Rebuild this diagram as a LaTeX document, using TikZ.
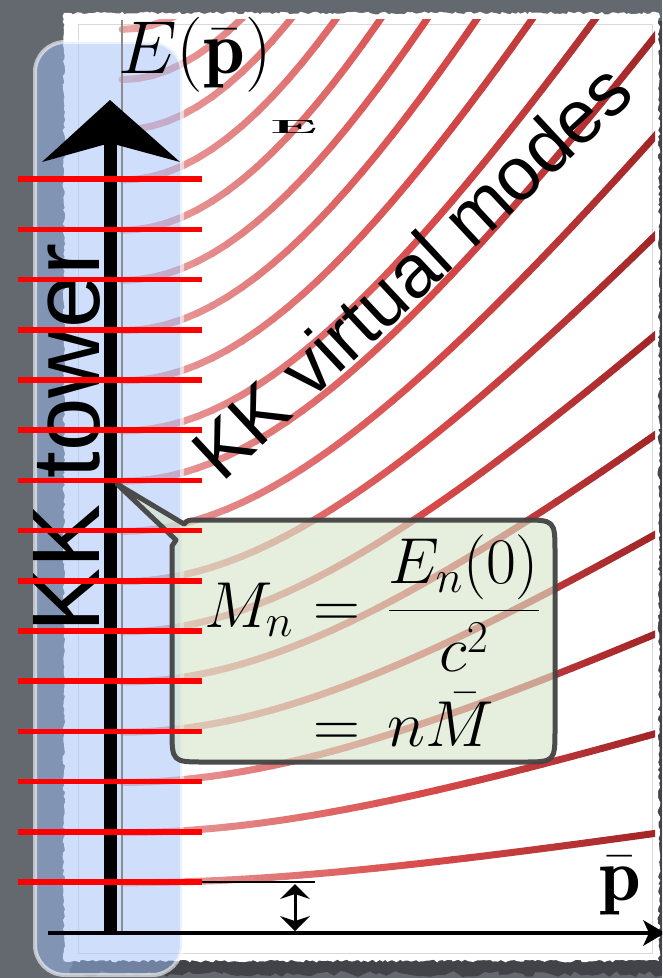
\RequirePackage{fix-cm}
\documentclass[tikz,border=0pt]{standalone}
\usepackage{amsmath}
\usepackage{fontspec}
\newfontfamily\arialf{Liberation Sans}
\usetikzlibrary{arrows.meta, decorations.pathmorphing}
\definecolor{bgc}{HTML}{64686F}
\definecolor{boxblue}{HTML}{A1C1F9}
\definecolor{callfill}{HTML}{D7E5CA}
\definecolor{callborder}{HTML}{434343}
\definecolor{cA}{HTML}{EBA5A5}
\definecolor{cB}{HTML}{D84A4A}
\definecolor{cC}{HTML}{A22628}
\definecolor{towerred}{HTML}{FF0000}
\begin{document}
\begin{tikzpicture}[x=1pt,y=-1pt,
  redline/.style={line width=5.5pt, draw=towerred},
  kkcurve/.style={line width=7pt, line cap=round},
  mathlbl/.style={font=\fontsize{75}{85}\selectfont, inner sep=0pt},
  sanslbl/.style={font=\arialf\fontsize{96}{100}\selectfont, inner sep=0pt},
  sanslbltwo/.style={font=\arialf\fontsize{75}{80}\selectfont, inner sep=0pt},
  callout/.style={fill=callfill, fill opacity=0.62, draw=callborder, draw opacity=0.95, line width=5pt, line join=round},
  bluebox/.style={fill=boxblue, fill opacity=0.5, draw=white, draw opacity=0.6, line width=4pt, rounded corners=30pt}
]
\useasboundingbox (0,0) rectangle (662,978);
\clip (0,0) rectangle (662,978);
% background
\fill[bgc] (0,0) rectangle (662,978);
% paper shadow and paper
\fill[black, opacity=0.35, decorate, decoration={random steps, segment length=6pt, amplitude=3pt}] (70,22) rectangle (668,974);
\fill[white, decorate, decoration={random steps, segment length=3pt, amplitude=1.4pt}] (64,13) rectangle (659,961);
\draw[black!15, line width=0.8pt] (78,24) rectangle (652,953);
% curves
\begin{scope}
\clip (64,19) rectangle (655,958);
\foreach \n in {1,...,18}{
  \foreach \i in {0,...,35}{
    \pgfmathsetmacro\xa{122+15*\i}
    \pgfmathsetmacro\xb{137+15*\i}
    \pgfmathsetmacro\ya{933-50.2*\n*sqrt(1+((\xa-122)/311)^2)}
    \pgfmathsetmacro\yb{933-50.2*\n*sqrt(1+((\xb-122)/311)^2)}
    \ifnum\i<20
      \pgfmathtruncatemacro\pc{\i*5}\colorlet{cc}{cB!\pc!cA}
    \else
      \pgfmathtruncatemacro\pc{(\i-20)*100/15}\colorlet{cc}{cC!\pc!cB}
    \fi
    \draw[kkcurve, cc] (\xa,\ya) -- (\xb,\yb);
  }
}
\end{scope}
% blue box
\draw[bluebox] (35,42) rectangle (182,975);
% thin lines
\coordinate (gtop) at (122,20);
\coordinate (gbot) at (122,933);
\draw[black!45, line width=1.2pt] (gtop) -- (gbot);
% KK tower
\node[sanslbl, rotate=90, anchor=base west] (tower) at (99,633) {KK tower};
% vertical axis
\coordinate (ybot) at (110,935);
\coordinate (ynotch) at (110,143);
\coordinate (ytip) at (110,100);
\coordinate (yleft) at (42,162);
\coordinate (yright) at (180,162);
\draw[line width=13pt] (ybot) -- (ynotch);
\fill (ytip) -- (yright) -- (ynotch) -- (yleft) -- cycle;
% horizontal axis
\coordinate (xstart) at (48,933);
\coordinate (xend) at (665,933);
\draw[line width=4.5pt, -{Stealth[length=22pt, width=26pt, inset=6pt, line width=0pt]}] (xstart) -- (xend);
% M_1 level line and double arrow
\coordinate (mlA) at (108,882);
\coordinate (mlB) at (315,882);
\draw[line width=1.3pt] (mlA) -- (mlB);
\coordinate (dA) at (295,884);
\coordinate (dB) at (295,931);
\draw[line width=3pt, {Stealth[length=15pt, width=30pt, inset=5pt, line width=0pt]}-{Stealth[length=15pt, width=30pt, inset=5pt, line width=0pt]}] (dA) -- (dB);
% callout
\coordinate (ctip) at (117,484);
\draw[callout] (ctip) -- (184,524) .. controls (188,520) .. (196,520)
  -- (522,520) .. controls (555,520) .. (555,553)
  -- (555,729) .. controls (555,762) .. (522,762)
  -- (205,762) .. controls (172,762) .. (172,729)
  -- (172,546) -- (176,540) -- cycle;
\node[anchor=base west, inner sep=0pt, font=\fontsize{65}{76}\selectfont] (formula) at (204,627)
  {$\begin{array}[t]{@{}r@{\hspace{21pt}}c@{\hspace{27pt}}l@{}}
   M_n & = & \dfrac{E_n(0)}{c^2}\\[43pt]
       & = & n\bar{M}
   \end{array}$};
% red tower lines
\foreach \k in {0,...,14}{
  \draw[redline] (18,{882-50.2*\k}) -- (202,{882-50.2*\k});
}
% labels
\node[mathlbl, anchor=base west] (elabel) at (118,73) {$E(\bar{\mathbf{p}})$};
\node[mathlbl, anchor=base west] (plabel) at (599,900) {$\bar{\mathbf{p}}$};
\node[sanslbltwo, rotate=43, anchor=base west] (modes) at (222,484) {KK virtual modes};
\node[inner sep=0pt, font=\bfseries\fontsize{19}{20}\selectfont, xscale=3.4] (smallE) at (294,127) {E};
\end{tikzpicture}
\end{document}
